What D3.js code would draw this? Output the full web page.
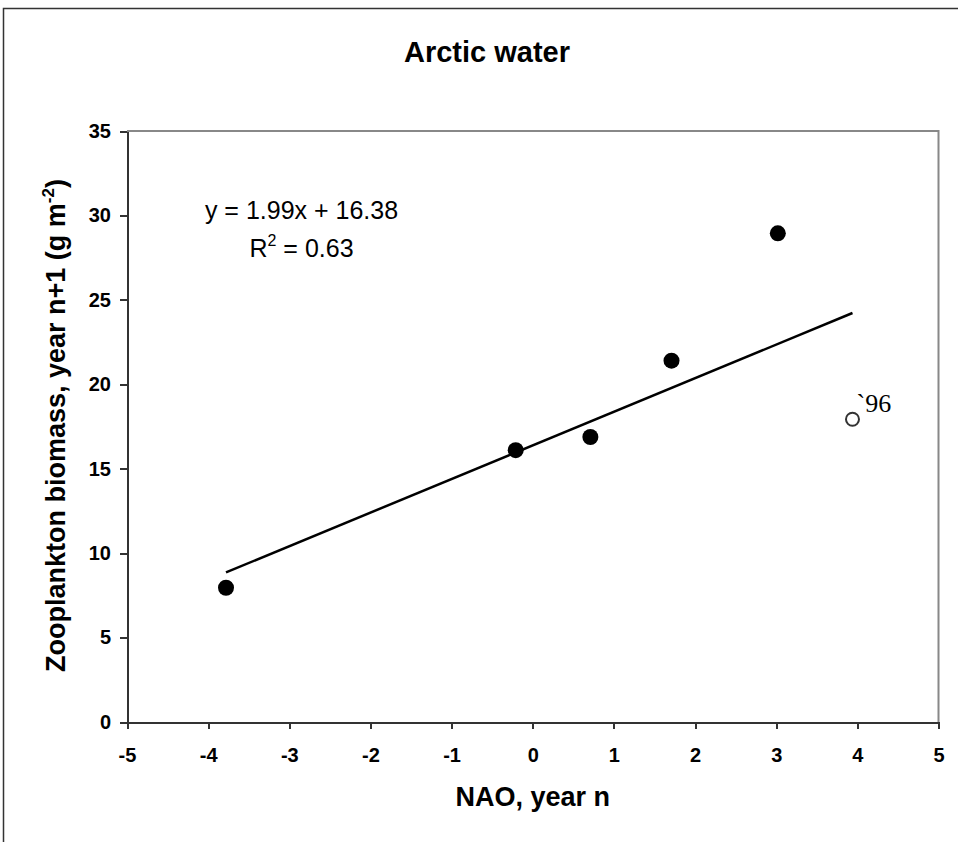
<!DOCTYPE html>
<html lang="en">
<head>
    <meta charset="UTF-8">
    <title>Arctic water</title>
    <script src="https://d3js.org/d3.v7.min.js"></script>
    <style>
        body { margin: 0; background: #fff; }
        svg { display: block; font-family: "Liberation Sans", Arial, sans-serif; }
        .tick text { font-size: 20px; font-weight: bold; fill: #000; }
        .axis path, .axis line { stroke: #333; stroke-width: 2; shape-rendering: crispEdges; }
    </style>
</head>
<body>
    <svg width="958" height="842"></svg>
    <script>
        // NAO (year n) vs zooplankton biomass (year n+1)
        const nao = [-3.78, -0.21, 0.71, 1.71, 3.02];
        const biomass = [7.95, 16.1, 16.88, 21.4, 28.94];
        // 1996 shown as open circle
        const outlierNao = [3.94];
        const outlierBiomass = [17.93];
        const outlierLabel = ["`96"];
        // regression shown on the chart
        const slope = 1.99, intercept = 16.38;
        const xTicks = [-5, -4, -3, -2, -1, 0, 1, 2, 3, 4, 5];
        const yTicks = [0, 5, 10, 15, 20, 25, 30, 35];

        const svg = d3.select("svg");

        // outer chart border
        svg.append("rect")
            .attr("x", 3.5).attr("y", 8.5)
            .attr("width", 1000).attr("height", 1000)
            .attr("fill", "none").attr("stroke", "#333").attr("stroke-width", 1.5);

        const x = d3.scaleLinear().domain([-5, 5]).range([127, 938.5]);
        const y = d3.scaleLinear().domain([0, 35]).range([722, 131]);

        // plot frame top / right (grey)
        svg.append("path")
            .attr("d", `M${x(-5)},${y(35)}H${x(5)}V${y(0)}`)
            .attr("fill", "none").attr("stroke", "#888").attr("stroke-width", 2);

        svg.append("g")
            .attr("class", "axis")
            .attr("transform", `translate(0,${y(0)})`)
            .call(d3.axisBottom(x).tickValues(xTicks).tickSize(7).tickSizeOuter(0).tickPadding(19).tickFormat(d => String(d)));

        svg.append("g")
            .attr("class", "axis")
            .attr("transform", `translate(${x(-5)},0)`)
            .call(d3.axisLeft(y).tickValues(yTicks).tickSize(7).tickSizeOuter(0).tickPadding(9).tickFormat(d => String(d)));

        // trend line over the full x range of all points
        const allX = nao.concat(outlierNao);
        const tx = d3.extent(allX);
        svg.append("line")
            .attr("x1", x(tx[0])).attr("y1", y(slope * tx[0] + intercept))
            .attr("x2", x(tx[1])).attr("y2", y(slope * tx[1] + intercept))
            .attr("stroke", "#000").attr("stroke-width", 2.5);

        svg.append("g").selectAll("circle")
            .data(nao.map((d, i) => ({ x: d, y: biomass[i] })))
            .enter().append("circle")
            .attr("cx", d => x(d.x))
            .attr("cy", d => y(d.y))
            .attr("r", 8)
            .attr("fill", "#000");

        const out = outlierNao.map((d, i) => ({ x: d, y: outlierBiomass[i], label: outlierLabel[i] }));
        svg.append("g").selectAll("circle")
            .data(out)
            .enter().append("circle")
            .attr("cx", d => x(d.x))
            .attr("cy", d => y(d.y))
            .attr("r", 6.5)
            .attr("fill", "#fff")
            .attr("stroke", "#333").attr("stroke-width", 2);

        svg.append("g").selectAll("text")
            .data(out)
            .enter().append("text")
            .attr("x", d => x(d.x) + 4)
            .attr("y", d => y(d.y) - 7)
            .style("font-family", "'Liberation Serif', 'Times New Roman', serif")
            .style("font-size", "26px")
            .text(d => d.label);

        // title
        svg.append("text")
            .attr("x", 487).attr("y", 62)
            .attr("text-anchor", "middle")
            .style("font-size", "29px").style("font-weight", "bold")
            .text("Arctic water");

        // equation
        svg.append("text")
            .attr("x", 301.5).attr("y", 219)
            .attr("text-anchor", "middle")
            .style("font-size", "25px")
            .text(`y = ${slope}x + ${intercept}`);
        const r2 = svg.append("text")
            .attr("x", 301.5).attr("y", 257)
            .attr("text-anchor", "middle")
            .style("font-size", "25px");
        r2.append("tspan").text("R");
        r2.append("tspan").attr("dy", -11).style("font-size", "16px").text("2");
        r2.append("tspan").attr("dy", 11).text(" = 0.63");

        // axis titles
        svg.append("text")
            .attr("x", (x(-5) + x(5)) / 2).attr("y", 806)
            .attr("text-anchor", "middle")
            .style("font-size", "27px").style("font-weight", "bold")
            .text("NAO, year n");

        const yt = svg.append("text")
            .attr("transform", "translate(65,672) rotate(-90)")
            .style("font-size", "27px").style("font-weight", "bold");
        yt.append("tspan").text("Zooplankton biomass, year n+1 (g m");
        yt.append("tspan").attr("dy", -11).style("font-size", "17px").text("-2");
        yt.append("tspan").attr("dy", 11).text(")");
    </script>
</body>
</html>
